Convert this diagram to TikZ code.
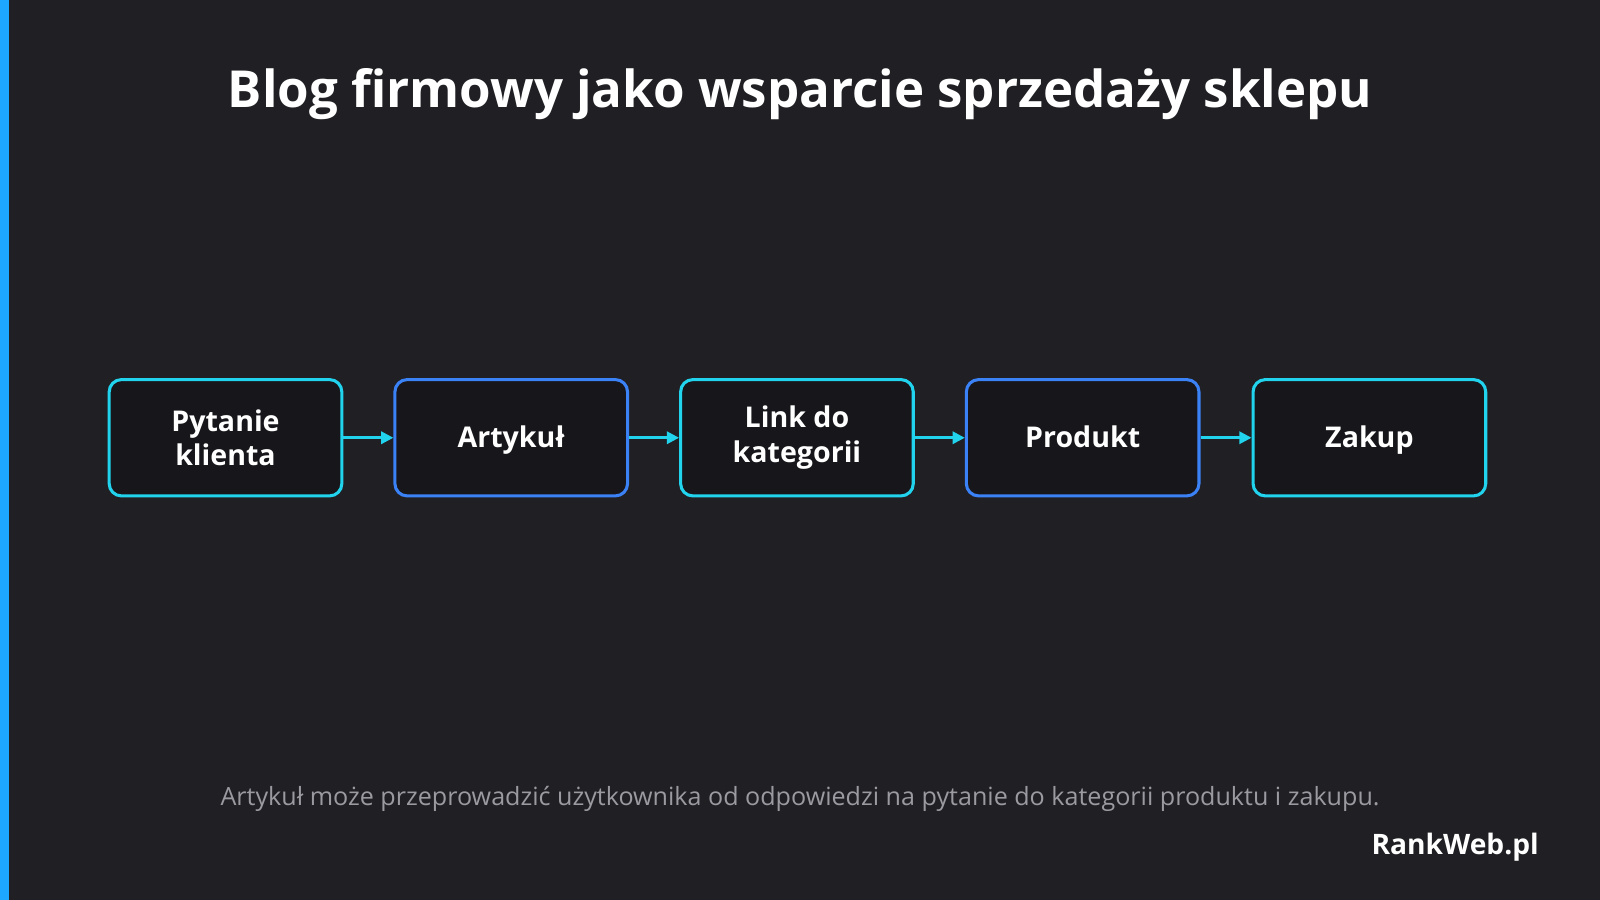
\documentclass[tikz,border=0pt]{standalone}
\usepackage{fontspec}
\setmainfont{Open Sans}
\usetikzlibrary{arrows.meta}
\definecolor{bg}{HTML}{1F1F24}
\definecolor{boxfill}{HTML}{16161B}
\definecolor{cy}{HTML}{22D3EE}
\definecolor{bl}{HTML}{3B82F6}
\definecolor{bar}{HTML}{1EA7FF}
\definecolor{cap}{HTML}{9A9AA0}
\begin{document}
\begin{tikzpicture}[x=0.5pt,y=-0.5pt,
 box/.style={draw=#1,line width=1.5pt,fill=boxfill,rounded corners=6pt,minimum width=114pt,minimum height=57pt,text=white,align=center,font=\fontsize{14}{17}\selectfont\bfseries},
 one/.style={text height=13.5pt,text depth=3.5pt},
 arr/.style={draw=cy,line width=1.3pt,-{Triangle[length=6pt,width=6pt]}}]
\fill[bg] (0,0) rectangle (1568,882);
\useasboundingbox (0,0) rectangle (1568,882);
\fill[bar] (0,0) rectangle (9,882);
\node[text=white,font=\fontsize{25}{30}\selectfont\bfseries] (title) at (784,92) {Blog firmowy jako wsparcie sprzedaży sklepu};
\node[box=cy] (a) at (221,429) {Pytanie\\klienta};
\node[box=bl,one] (b) at (501,429) {Artykuł};
\node[box=cy] (c) at (781,429) {Link do\\kategorii};
\node[box=bl,one] (d) at (1061,429) {Produkt};
\node[box=cy,one] (e) at (1342,429) {Zakup};
\draw[arr] (a) -- (b);
\draw[arr] (b) -- (c);
\draw[arr] (c) -- (d);
\draw[arr] (d) -- (e);
\node[text=cap,font=\fontsize{12.3}{14}\selectfont] (caption) at (784,783) {Artykuł może przeprowadzić użytkownika od odpowiedzi na pytanie do kategorii produktu i zakupu.};
\node[text=white,font=\fontsize{13.8}{16}\selectfont\bfseries,anchor=east] (logo) at (1515,830) {RankWeb.pl};
\end{tikzpicture}
\end{document}
